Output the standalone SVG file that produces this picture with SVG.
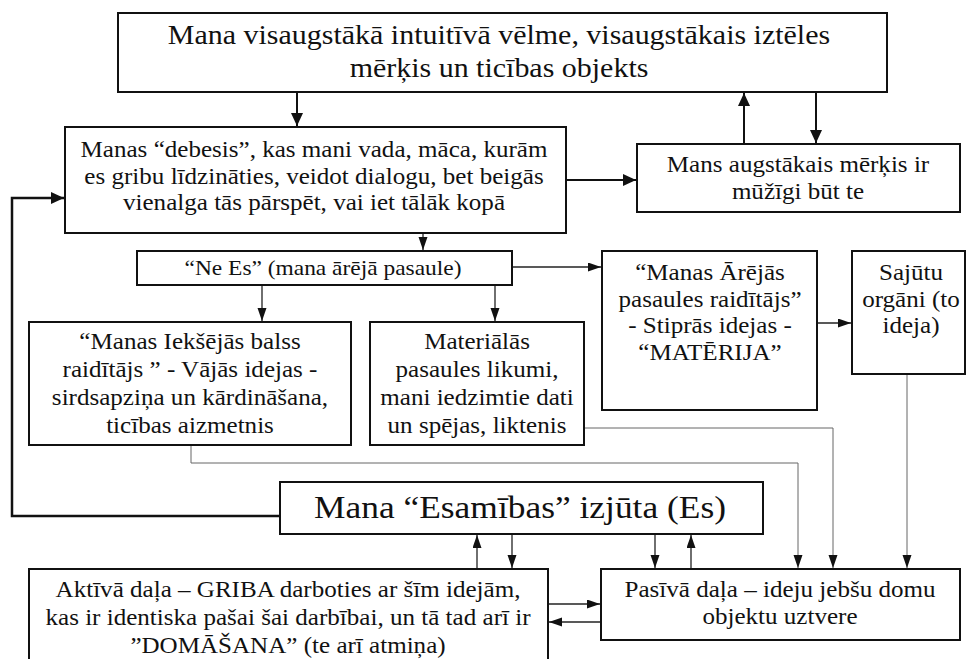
<svg xmlns="http://www.w3.org/2000/svg" width="968" height="659" viewBox="0 0 968 659">
<defs>
<style>
.box{fill:#fff;stroke:#111;stroke-width:2}
.t{font-family:'Liberation Serif','DejaVu Serif',serif;fill:#111;text-anchor:middle;font-size:23px}
.thick{fill:none;stroke:#111;stroke-width:2}
.med{fill:none;stroke:#222;stroke-width:1.3}
.thin{fill:none;stroke:#666;stroke-width:1}
</style>
<marker id="ah" markerUnits="userSpaceOnUse" markerWidth="14" markerHeight="12" refX="13" refY="6" orient="auto">
<path d="M0,0 L13,6 L0,12 z" fill="#111"/>
</marker>
<marker id="as" markerUnits="userSpaceOnUse" markerWidth="14" markerHeight="10" refX="13" refY="4.5" orient="auto">
<path d="M0,0 L13,4.5 L0,9 z" fill="#111"/>
</marker>
</defs>

<g id="connectors">
<path class="thick" d="M297,92 V126" marker-end="url(#ah)"/>
<path class="thick" d="M566,180 H636" marker-end="url(#ah)"/>
<path class="thick" d="M744,144 V93" marker-end="url(#ah)"/>
<path class="thick" d="M816,92 V143" marker-end="url(#ah)"/>
<path class="thick" d="M280,516 H12 V198 H64" marker-end="url(#ah)" style="stroke-width:2.5"/>
<path class="med" d="M423,233 V250" marker-end="url(#as)"/>
<path class="med" d="M262,285 V321" marker-end="url(#as)"/>
<path class="med" d="M495,285 V321" marker-end="url(#as)"/>
<path class="med" d="M512,267 H601" marker-end="url(#as)"/>
<path class="med" d="M817,323 H851" marker-end="url(#as)"/>
<path class="med" d="M477,569 V535" marker-end="url(#as)"/>
<path class="med" d="M512,534 V568" marker-end="url(#as)"/>
<path class="med" d="M655,534 V568" marker-end="url(#as)"/>
<path class="med" d="M691,569 V535" marker-end="url(#as)"/>
<path class="med" d="M548,604 H600" marker-end="url(#as)"/>
<path class="med" d="M601,622 H549" marker-end="url(#as)"/>
<path class="thin" d="M191,445 V463 H798 V568" marker-end="url(#as)"/>
<path class="thin" d="M584,428 H833 V568" marker-end="url(#as)"/>
<path class="thin" d="M907,374 V568" marker-end="url(#as)"/>
</g>

<g font-family="Liberation Serif, serif">
<g id="top">
<rect class="box" x="118" y="13" width="769" height="79"/>
<text class="t" style="font-size:27.5px" transform="translate(499 0) scale(1.09 1)"><tspan x="0" y="44">Mana visaugstākā intuitīvā vēlme, visaugstākais iztēles</tspan><tspan x="0" y="77">mērķis un ticības objekts</tspan></text>
</g>

<g id="debesis">
<rect class="box" x="65" y="127" width="501" height="106"/>
<text class="t" transform="translate(314 0) scale(1.09 1)"><tspan x="0" y="157">Manas “debesis”, kas mani vada, māca, kurām</tspan><tspan x="0" y="184">es gribu līdzināties, veidot dialogu, bet beigās</tspan><tspan x="0" y="210">vienalga tās pārspēt, vai iet tālāk kopā</tspan></text>
</g>

<g id="augstakais">
<rect class="box" x="637" y="144" width="323" height="68"/>
<text class="t" transform="translate(798 0) scale(1.09 1)"><tspan x="0" y="172">Mans augstākais mērķis ir</tspan><tspan x="0" y="199">mūžīgi būt te</tspan></text>
</g>

<g id="nees">
<rect class="box" x="137" y="251" width="375" height="34"/>
<text class="t" style="font-size:21.5px" transform="translate(323 0) scale(1.09 1)"><tspan x="0" y="275">“Ne Es” (mana ārējā pasaule)</tspan></text>
</g>

<g id="iekseja">
<rect class="box" x="29" y="322" width="322" height="123"/>
<text class="t" transform="translate(190 0) scale(1.09 1)"><tspan x="0" y="349">“Manas Iekšējās balss</tspan><tspan x="0" y="377">raidītājs ” - Vājās idejas -</tspan><tspan x="0" y="405">sirdsapziņa un kārdināšana,</tspan><tspan x="0" y="433">ticības aizmetnis</tspan></text>
</g>

<g id="materialas">
<rect class="box" x="370" y="322" width="214" height="123"/>
<text class="t" transform="translate(477 0) scale(1.09 1)"><tspan x="0" y="349">Materiālās</tspan><tspan x="0" y="377">pasaules likumi,</tspan><tspan x="0" y="405">mani iedzimtie dati</tspan><tspan x="0" y="433">un spējas, liktenis</tspan></text>
</g>

<g id="areja">
<rect class="box" x="602" y="251" width="215" height="159"/>
<text class="t" transform="translate(710 0) scale(1.09 1)"><tspan x="0" y="280">“Manas Ārējās</tspan><tspan x="0" y="307">pasaules raidītājs”</tspan><tspan x="0" y="333">- Stiprās idejas -</tspan><tspan x="0" y="360">“MATĒRIJA”</tspan></text>
</g>

<g id="sajutu">
<rect class="box" x="852" y="251" width="113" height="123"/>
<text class="t" transform="translate(911 0) scale(1.09 1)"><tspan x="0" y="280">Sajūtu</tspan><tspan x="0" y="307">orgāni (to</tspan><tspan x="0" y="333">ideja)</tspan></text>
</g>

<g id="esamiba">
<rect class="box" x="280" y="482" width="483" height="52"/>
<text class="t" style="font-size:32.5px" transform="translate(520 0) scale(1.09 1)"><tspan x="0" y="518">Mana “Esamības” izjūta (Es)</tspan></text>
</g>

<g id="aktiva">
<rect class="box" x="29" y="569" width="519" height="110"/>
<text class="t" transform="translate(288 0) scale(1.09 1)"><tspan x="0" y="597">Aktīvā daļa – GRIBA darboties ar šīm idejām,</tspan><tspan x="0" y="625">kas ir identiska pašai šai darbībai, un tā tad arī ir</tspan><tspan x="0" y="653">”DOMĀŠANA” (te arī atmiņa)</tspan></text>
</g>

<g id="pasiva">
<rect class="box" x="601" y="569" width="359" height="71"/>
<text class="t" transform="translate(780 0) scale(1.09 1)"><tspan x="0" y="597">Pasīvā daļa – ideju jebšu domu</tspan><tspan x="0" y="624">objektu uztvere</tspan></text>
</g>
</g>
</svg>
